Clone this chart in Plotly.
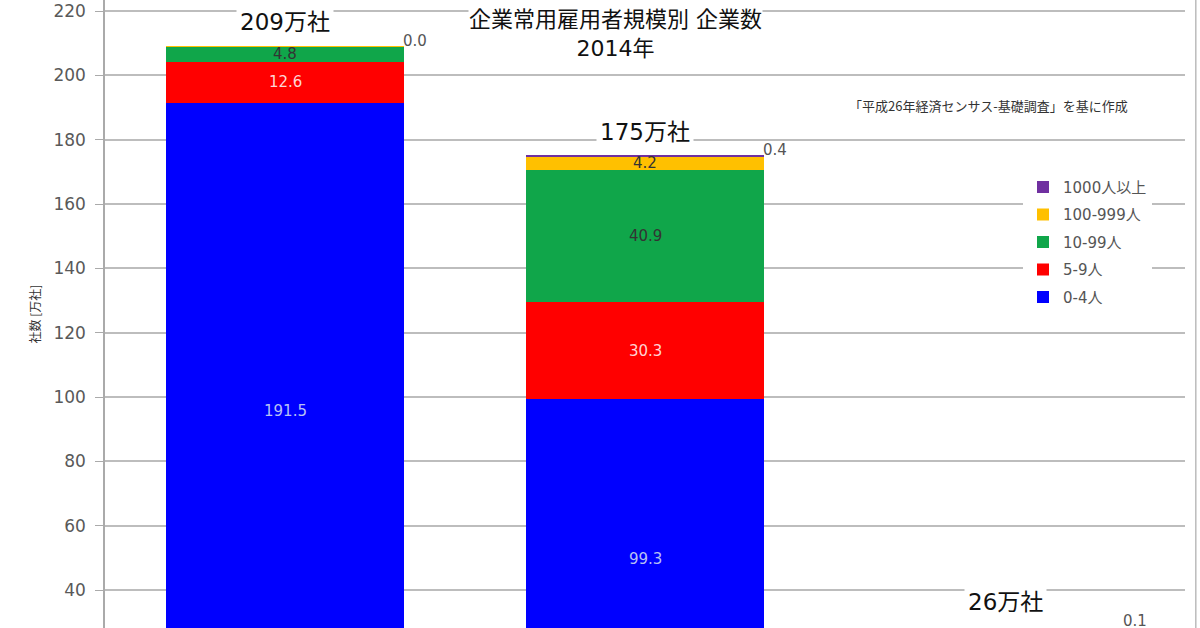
import plotly.graph_objects as go

categories = ["個人経営", "会社企業", "会社以外の法人"]
series_names = ["0-4人", "5-9人", "10-99人", "100-999人", "1000人以上"]
v_0_4 = [191.5, 99.3, 16.0]
v_5_9 = [12.6, 30.3, 3.6]
v_10_99 = [4.8, 40.9, 5.3]
v_100_999 = [0.1, 4.2, 1.0]
v_1000 = [0.0, 0.4, 0.1]
totals = [209, 175, 26]
total_labels = ["209万社", "175万社", "26万社"]
y_ticks = list(range(40, 221, 20))

series = [v_0_4, v_5_9, v_10_99, v_100_999, v_1000]
colors = ["#0000FF", "#FF0000", "#10A64A", "#FFC000", "#7030A0"]
label_colors = ["#B8C0F4", "#FFD4D4", "#333333", "#333333", "#555555"]
show_label = [[True, True, True], [True, True, True], [True, True, True],
              [False, True, True], [True, True, True]]

Y0, Y1 = 28.19, 223.42
LABEL_FLOOR = Y0 + 0.62  # keep top-of-bar labels on screen


def to_paper(v):
    return (v - Y0) / (Y1 - Y0)


FONT = "DejaVu Sans, Noto Sans CJK JP"
CJK = "Noto Sans CJK JP"
fig = go.Figure()
n = len(series_names)
for k, (name, vals, col) in enumerate(zip(series_names, series, colors)):
    fig.add_trace(go.Bar(x=list(range(len(categories))), y=vals, name=name, legendgroup=name,
                         legendrank=n - k,
                         marker=dict(color=col, line=dict(width=0))))

annotations = []
half = (1 - 0.34) / 2
for i in range(len(categories)):
    base = 0.0
    for s, vals in enumerate(series):
        v = vals[i]
        if s < 4:
            mid = base + v / 2
            if show_label[s][i] and mid > Y0:
                annotations.append(dict(x=i, y=to_paper(mid), yref="paper",
                                        xanchor="center", yanchor="middle",
                                        text=f"{v:.1f}", showarrow=False,
                                        font=dict(size=15, color=label_colors[s], family=FONT)))
        else:
            annotations.append(dict(x=i + half, y=to_paper(max(base + v, LABEL_FLOOR)), yref="paper",
                                    xanchor="center", yanchor="middle",
                                    text=f"{v:.1f}", showarrow=False,
                                    xshift=11, yshift=5,
                                    font=dict(size=15, color=label_colors[s], family=FONT)))
        base += v
    annotations.append(dict(x=i, y=to_paper(max(totals[i], LABEL_FLOOR)), yref="paper",
                            text=total_labels[i],
                            xanchor="center", yanchor="middle",
                            showarrow=False, yshift=24,
                            bgcolor="white", borderpad=3,
                            font=dict(size=23, color="#111111", family=FONT)))

annotations.append(dict(xref="paper", yref="paper", x=0.949, y=0.832, xanchor="right",
                        yanchor="middle",
                        text="「平成26年経済センサス-基礎調査」を基に作成", showarrow=False,
                        font=dict(size=13, color="#333333", family=CJK)))
annotations.append(dict(xref="paper", yref="paper", x=0.473, y=1.0, yanchor="top", yshift=-6,
                        text="企業常用雇用者規模別 企業数<br>2014年", showarrow=False,
                        bgcolor="white", borderpad=0,
                        font=dict(size=22, color="#111111", family=FONT)))

fig.update_layout(
    width=1200, height=628,
    margin=dict(l=105, r=15, t=0, b=0, autoexpand=False),
    barmode="stack", bargap=0.34,
    plot_bgcolor="white", paper_bgcolor="white",
    showlegend=True,
    legend=dict(x=0.85, y=0.728, xanchor="left", yanchor="top", traceorder="grouped",
                bgcolor="white", font=dict(size=15, color="#555555", family=FONT),
                itemwidth=30, tracegroupgap=5),
    annotations=annotations,
    font=dict(family=FONT),
)
fig.update_xaxes(tickvals=list(range(len(categories))), ticktext=categories,
                 range=[-0.5, 2.5], showline=False, showgrid=False, ticks="",
                 showticklabels=False, automargin=False)
fig.update_yaxes(range=[Y0, Y1], tickvals=y_ticks,
                 showgrid=True, gridcolor="#BDBDBD", gridwidth=1.5,
                 showline=True, linecolor="#AAAAAA", linewidth=1.5,
                 ticks="outside", ticklen=8, tickcolor="#AAAAAA",
                 tickfont=dict(size=17, color="#595959", family=FONT),
                 ticklabeloverflow="allow", ticklabelstandoff=6,
                 title=dict(text="社数 [万社]", font=dict(size=12, color="#333333", family=CJK),
                            standoff=10),
                 automargin=False, zeroline=False)
fig.add_shape(type="line", xref="paper", yref="paper", x0=1.01, x1=1.01, y0=0, y1=1,
              line=dict(color="#BBBBBB", width=1.5))
fig.write_html("out.html", config={"displayModeBar": False},
               post_script="document.body.style.margin='0px';")
